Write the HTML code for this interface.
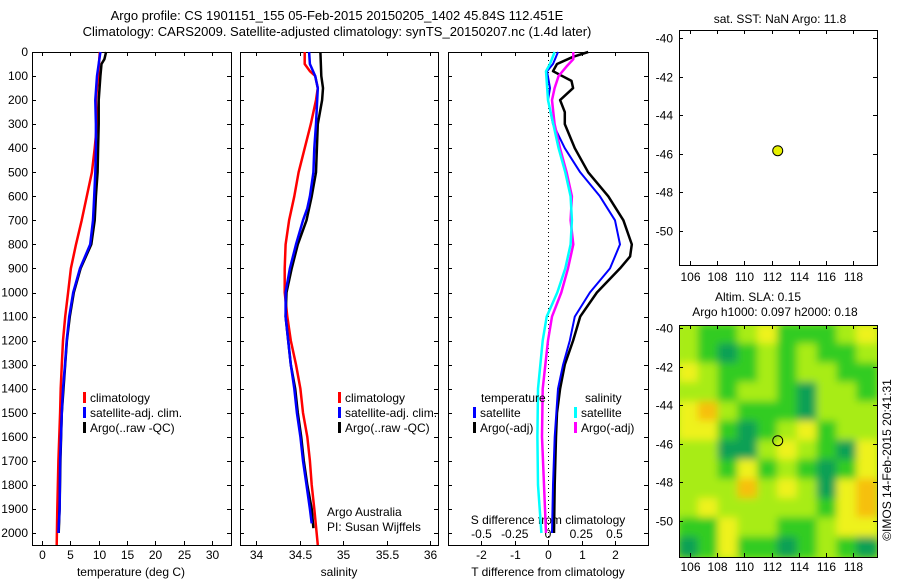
<!DOCTYPE html>
<html><head><meta charset="utf-8"><style>
body{margin:0;background:#fff;width:900px;height:580px;overflow:hidden}
svg{font-family:"Liberation Sans",sans-serif;font-size:12px}
</style></head><body>
<svg id="c" width="900" height="580" xmlns="http://www.w3.org/2000/svg"></svg>
<script>
// ---------------- data ----------------
const tDepth=[0,100,200,300,400,500,600,700,800,900,1000,1100,1200,1300,1400,1500,1700,1900,2050];
const tClim=[10.2,9.9,9.5,9.7,9.3,8.8,7.9,7.0,6.0,5.1,4.6,4.1,3.7,3.5,3.3,3.2,2.9,2.7,2.6];
const tSatDepth=[0,100,200,300,400,500,600,700,800,900,1000,1100,1200,1300,1400,1500,1700,1900,2000];
const tSat=[10.3,9.7,9.4,9.5,9.5,9.4,9.2,9.0,8.5,6.7,5.5,4.8,4.35,4.06,3.7,3.5,3.2,3.1,2.9];
const tArgoDepth=[0,30,50,100,200,300,400,500,600,700,800,900,1000,1100,1200,1300,1400,1500,1700,1900,2000];
const tArgo=[11.3,11.0,10.5,10.3,10.0,10.0,9.9,9.8,9.5,9.3,8.7,6.8,5.6,4.9,4.4,4.1,3.8,3.5,3.25,3.1,2.95];
const sDepth=[0,50,80,100,150,200,300,400,500,600,700,800,900,1000,1100,1200,1300,1400,1500,1600,1700,1800,1900,2050];
const sClim=[34.56,34.56,34.62,34.68,34.71,34.69,34.63,34.56,34.49,34.44,34.38,34.34,34.33,34.33,34.36,34.40,34.46,34.51,34.54,34.59,34.62,34.64,34.67,34.71];
const sSatDepth=[0,50,100,150,300,400,500,600,650,700,800,900,1000,1100,1200,1300,1400,1500,1600,1700,1800,1900,1960];
const sSat=[34.61,34.62,34.68,34.71,34.69,34.67,34.66,34.62,34.59,34.54,34.46,34.39,34.34,34.34,34.37,34.40,34.44,34.47,34.51,34.54,34.58,34.62,34.64];
const sArgoDepth=[0,100,150,200,300,400,500,600,700,800,900,1000,1100,1200,1300,1400,1500,1600,1700,1800,1900,1980];
const sArgo=[34.74,34.75,34.77,34.76,34.71,34.70,34.69,34.64,34.58,34.48,34.41,34.35,34.34,34.37,34.40,34.45,34.48,34.52,34.55,34.59,34.64,34.66];
const dDepth=[0,20,50,80,120,150,200,250,300,400,500,600,700,800,850,900,1000,1100,1200,1300,1400,1500,1600,1800,2000];
const dTArgo=[1.2,0.75,0.27,0.15,0.7,0.75,0.36,0.5,0.5,0.8,1.2,1.8,2.25,2.5,2.45,2.15,1.46,0.96,0.75,0.5,0.36,0.27,0.24,0.2,0.18];
const dTSatDepth=[0,50,80,150,200,300,400,500,600,700,800,900,1000,1100,1200,1300,1400,1600,1800,2000];
const dTSat=[0.3,0.15,-0.03,0.06,0,0.15,0.5,0.96,1.55,2.0,2.15,1.85,1.25,0.8,0.65,0.45,0.3,0.2,0.15,0.12];
const dSDepth=[0,30,60,100,150,200,300,400,500,600,700,800,900,1000,1100,1200,1400,1600,1800,2000];
const dSArgo=[0.19,0.19,0.14,0.08,0.05,0.03,0.05,0.09,0.14,0.18,0.17,0.19,0.15,0.1,0.03,0,-0.04,-0.045,-0.03,-0.015];
const dSSatDepth=[0,50,80,200,300,400,500,600,700,800,900,1000,1100,1200,1400,1600,1800,2000];
const dSSat=[0.05,0.015,-0.015,0,0.04,0.08,0.13,0.17,0.18,0.17,0.13,0.07,-0.01,-0.04,-0.075,-0.08,-0.075,-0.05];
const floatLon=112.45, floatLat=-45.84;
const depthTicks=[0,100,200,300,400,500,600,700,800,900,1000,1100,1200,1300,1400,1500,1600,1700,1800,1900,2000];
const tTicks=[0,5,10,15,20,25,30];
const sTicks=[34,34.5,35,35.5,36];
const dTTicks=[-2,-1,0,1,2];
const dSTicks=[-0.5,-0.25,0,0.25,0.5];
const dSTickLabels=["-0.5","-0.25","0","0.25","0.5"];
const lonTicks=[106,108,110,112,114,116,118];
const latTicks=[-40,-42,-44,-46,-48,-50];
// SLA map levels 0..4, rows from -40 southward, cols 105..120
const slaGrid=[
[2,1,1,2,3,1,1,1,2,3],
[2,1,0,1,2,1,2,1,1,2],
[3,2,1,1,2,1,2,2,1,1],
[2,2,1,2,2,1,0,2,2,1],
[3,4,2,1,1,1,0,2,2,2],
[3,3,1,0,1,2,3,1,2,2],
[2,2,0,0,2,3,2,1,0,3],
[2,2,1,3,1,2,1,0,1,3],
[2,2,2,4,2,3,2,0,3,4],
[2,3,2,2,2,2,2,1,3,4],
[1,1,3,2,2,1,1,2,3,3],
[0,1,3,1,1,0,1,2,1,0]];
const slaColors=["#10a055","#30cc20","#a8ec18","#eef21a","#f6c010"];

// ---------------- drawing ----------------
const NS="http://www.w3.org/2000/svg";
const svg=document.getElementById('c');
function el(tag,attrs,parent){const e=document.createElementNS(NS,tag);for(const k in attrs)e.setAttribute(k,attrs[k]);(parent||svg).appendChild(e);return e;}
function txt(s,x,y,anchor,parent,extra){const t=el('text',Object.assign({x:x,y:y,'text-anchor':anchor||'start',fill:'#000'},extra||{}),parent);t.textContent=s;return t;}
const yD=d=>52+0.2405*d;
const PT=52,PB=545;
const panels={
 t:{x0:32,x1:231,f:v=>42+5.67*v},
 s:{x0:240,x1:438,f:v=>256+87*(v-34)},
 d:{x0:448,x1:648,f:v=>548+33.5*v}
};
const dS=v=>548+133*v;
function frame(x0,x1,y0,y1,name){
 const r=el('rect',{x:x0+0.5,y:y0+0.5,width:x1-x0,height:y1-y0,fill:'none',stroke:'#000','stroke-width':1});
 
 
}
function line(xs,ds,fx,color,w,name){
 const pts=xs.map((v,i)=>fx(v).toFixed(1)+','+yD(ds[i]).toFixed(1)).join(' ');
 const p=el('polyline',{points:pts,fill:'none',stroke:color,'stroke-width':w,'stroke-linejoin':'round'});
 
 
}
let t1=txt('Argo profile: CS 1901151_155 05-Feb-2015 20150205_1402 45.84S 112.451E',337,20,'middle',svg,{'font-size':'13px'});


let t2=txt('Climatology: CARS2009. Satellite-adjusted climatology: synTS_20150207.nc (1.4d later)',337,36,'middle',svg,{'font-size':'13px'});



for(const k of ['t','s','d']){
 const p=panels[k];
 frame(p.x0,p.x1,PT,PB,'panel-'+k+'-frame');
 depthTicks.forEach(d=>{const y=Math.round(yD(d))+0.5;
  el('line',{x1:p.x0,x2:p.x0+4,y1:y,y2:y,stroke:'#000'});
  el('line',{x1:p.x1-4,x2:p.x1,y1:y,y2:y,stroke:'#000'});});
}
depthTicks.forEach(d=>{const l=txt(String(d),28,yD(d)+4,'end');
 
 });
function xticks(p,ticks,labels,fx,yl){
 ticks.forEach((v,i)=>{const x=Math.round(fx(v))+0.5;
  el('line',{x1:x,x2:x,y1:PB-4,y2:PB,stroke:'#000'});
  el('line',{x1:x,x2:x,y1:PT,y2:PT+4,stroke:'#000'});
  const l=txt(labels[i],x,yl,'middle');
  
  });
}
xticks(panels.t,tTicks,tTicks.map(String),panels.t.f,559);
xticks(panels.s,sTicks,sTicks.map(String),panels.s.f,559);
xticks(panels.d,dTTicks,dTTicks.map(String),panels.d.f,559);
let a=txt('temperature (deg C)',131,576,'middle');
a=txt('salinity',339,576,'middle');
a=txt('T difference from climatology',548,576,'middle');
a=txt('S difference from climatology',548,524,'middle');
dSTicks.forEach((v,i)=>{const l=txt(dSTickLabels[i],dS(v),538,'middle');
 
 });
const z=el('line',{x1:548.5,x2:548.5,y1:PT,y2:PB,stroke:'#000','stroke-dasharray':'1,3'});


line(tClim,tDepth,panels.t.f,'#f00',2.5,'temp-climatology-line');
line(tArgo,tArgoDepth,panels.t.f,'#000',2.5,'temp-argo-line');
line(tSat,tSatDepth,panels.t.f,'#00f',2.5,'temp-satellite-line');
line(sClim,sDepth,panels.s.f,'#f00',2.5,'sal-climatology-line');
line(sArgo,sArgoDepth,panels.s.f,'#000',2.5,'sal-argo-line');
line(sSat,sSatDepth,panels.s.f,'#00f',2.5,'sal-satellite-line');
line(dTArgo,dDepth,panels.d.f,'#000',2.5,'tdiff-argo-line');
line(dTSat,dTSatDepth,panels.d.f,'#00f',2,'tdiff-satellite-line');
line(dSArgo,dSDepth,dS,'#f0f',2.5,'sdiff-argo-line');
line(dSSat,dSSatDepth,dS,'#0ff',2.5,'sdiff-satellite-line');

function leg(x,y,color,label,name){
 const r=el('rect',{x:x,y:y-9,width:3,height:11,fill:color});
 const t=txt(label,x+7,y+1);
 
 
}
[[83,'t'],[338,'s']].forEach(([x,k])=>{
 leg(x,401,'#f00','climatology','legend-'+k+'-climatology');
 leg(x,416,'#00f','satellite-adj. clim.','legend-'+k+'-satellite');
 leg(x,431,'#000','Argo(..raw -QC)','legend-'+k+'-argo');
});
a=txt('temperature',481,402);
a=txt('salinity',585,402);
leg(473,416,'#00f','satellite','legend-tdiff-satellite');
leg(473,431,'#000','Argo(-adj)','legend-tdiff-argo');
leg(574,416,'#0ff','satellite','legend-sdiff-satellite');
leg(574,431,'#f0f','Argo(-adj)','legend-sdiff-argo');
a=txt('Argo Australia',327,516);
a=txt('PI: Susan Wijffels',327,531);

const lonX=lon=>690+13.6*(lon-106);
const latY0=lat=>38+19.3*(-40-lat);
const latY1=lat=>328+19.3*(-40-lat);
function mapAxes(y0,y1,latY,xl,pre){
 frame(679,877,y0,y1,pre+'-frame');
 latTicks.forEach(v=>{const y=Math.round(latY(v))+0.5;
  el('line',{x1:679,x2:683,y1:y,y2:y,stroke:'#000'});el('line',{x1:873,x2:877,y1:y,y2:y,stroke:'#000'});
  const l=txt(String(v),673,y+4,'end');});
 lonTicks.forEach(v=>{const x=Math.round(lonX(v))+0.5;
  el('line',{x1:x,x2:x,y1:y1-4,y2:y1,stroke:'#000'});el('line',{x1:x,x2:x,y1:y0,y2:y0+4,stroke:'#000'});
  const l=txt(String(v),x,xl,'middle');});
}
const defs=el('defs',{});
const cp=el('clipPath',{id:'mc'},defs);el('rect',{x:680,y:326,width:197,height:231},cp);
const fl=el('filter',{id:'bl',x:'-10%',y:'-10%',width:'120%',height:'120%'},defs);el('feGaussianBlur',{stdDeviation:4},fl);
const hg=el('g',{'clip-path':'url(#mc)'});


el('rect',{x:679,y:325,width:198,height:232,fill:slaColors[2]},hg);
const inner=el('g',{filter:'url(#bl)'},hg);
const nr=slaGrid.length,nc=slaGrid[0].length;
const cw=(877-679)/nc, ch=(557-325)/nr;
slaGrid.forEach((row,i)=>row.forEach((v,j)=>{
 const c=el('rect',{x:679+j*cw-1,y:325+i*ch-1,width:cw+2,height:ch+2,fill:slaColors[v]},inner);
 
 
}));
mapAxes(30,265,latY0,281,'sst-map');
mapAxes(325,557,latY1,571,'sla-map');
a=txt('sat. SST: NaN Argo: 11.8',780,23,'middle');
a=txt('Altim. SLA: 0.15',758,301,'middle');
a=txt('Argo h1000: 0.097 h2000: 0.18',775,316,'middle');
let m=el('circle',{cx:lonX(floatLon),cy:latY0(floatLat),r:5,fill:'#e6f000',stroke:'#000'});

m=el('circle',{cx:lonX(floatLon),cy:latY1(floatLat),r:5,fill:'none',stroke:'#000'});

a=txt('©IMOS 14-Feb-2015 20:41:31',0,0,'middle',svg,{transform:'translate(891,460) rotate(-90)'});

</script>
</body></html>
